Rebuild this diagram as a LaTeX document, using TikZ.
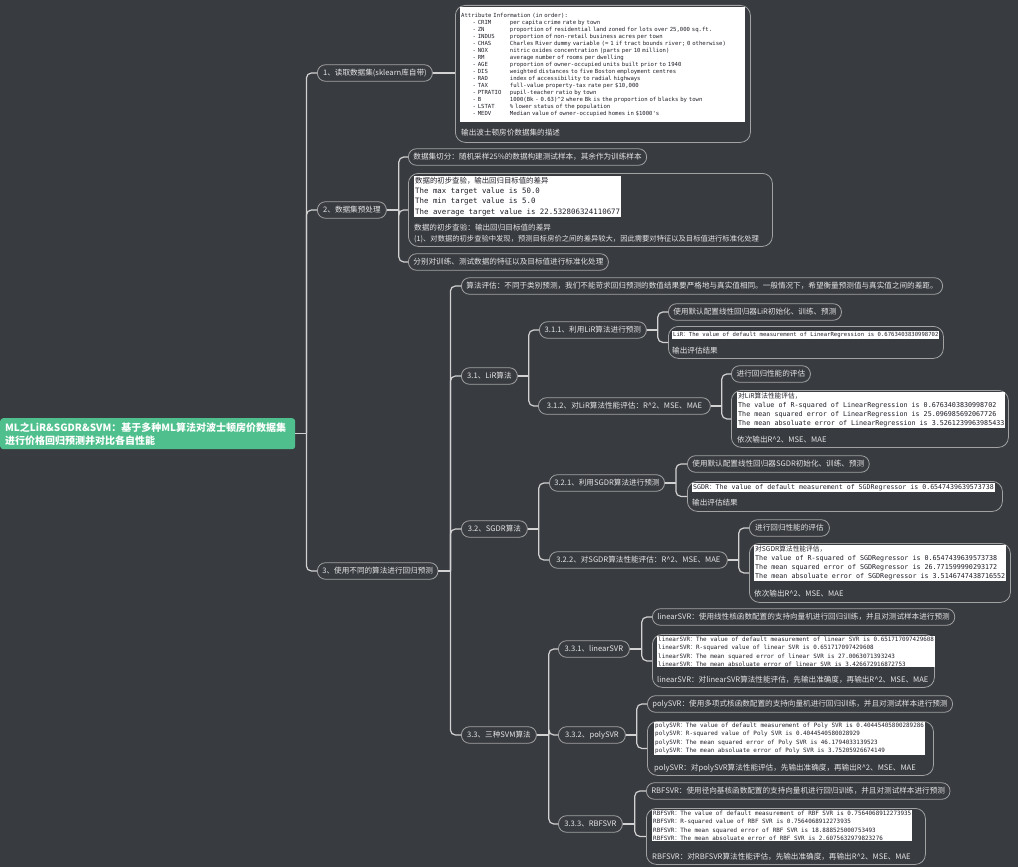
\documentclass[tikz,border=0pt]{standalone}
\usepackage{fontspec}
\setmainfont{Noto Sans CJK SC}
\newfontfamily\cjk{Noto Sans CJK SC}
\newfontfamily\monof{DejaVu Sans Mono}
\definecolor{bg}{HTML}{383B40}
\definecolor{ln}{HTML}{D2D2D2}
\definecolor{pb}{HTML}{A2A2A2}
\definecolor{tx}{HTML}{E6E6E6}
\definecolor{rootg}{HTML}{4FC08D}
\definecolor{codec}{HTML}{1E1E28}
\newcommand\attrline[2]{\hspace*{2.04em}\makebox[6.66em][l]{#1}#2}
\newcommand\fc{{\cjk ：}}
\tikzset{
  pill/.style={draw=pb, line width=0.8pt, rounded corners=8pt, minimum height=16.5pt, inner xsep=5pt, inner ysep=0pt, text=tx, font=\fontsize{7.6}{9}\selectfont, anchor=west},
  boxframe/.style={draw=pb, line width=0.8pt, rounded corners=10pt, anchor=north west, inner sep=0pt},
  codebox/.style={fill=white, text=codec, anchor=north west, inner xsep=1pt, inner ysep=1pt, align=left},
  captxt/.style={text=tx, anchor=west, inner sep=0pt, font=\fontsize{7.6}{9}\selectfont},
  conn/.style={draw=ln, line width=1.2pt},
  br/.style={conn, rounded corners=5pt},
}
\begin{document}
\begin{tikzpicture}[x=1pt,y=-1pt]
\fill[bg] (0,0) rectangle (1018,867);
\useasboundingbox (0,0) rectangle (1018,867);

% root
\node[fill=rootg, rounded corners=3pt, anchor=north west, text width=285pt, minimum height=31pt, inner xsep=5pt, inner ysep=2pt, text=white, align=left, font=\bfseries\fontsize{10}{13}\selectfont] (root) at (0,418) {ML之LiR\&SGDR\&SVM：基于多种ML算法对波士顿房价数据集\\进行价格回归预测并对比各自性能};

% level 1
\node[pill, minimum width=115pt] (p1) at (317,73) {1、读取数据集(sklearn库自带)};
\node[pill, minimum width=69pt] (p2) at (317,210) {2、数据集预处理};
\node[pill, minimum width=120pt] (p3) at (317,571) {3、使用不同的算法进行回归预测};

% branch 1
\node[boxframe, minimum width=295pt, minimum height=137pt] (b1) at (455,5) {};
\node[codebox, font=\monof\fontsize{5.6}{7}\selectfont, text width=283pt, minimum height=115pt] (c1) at (460,7) {Attribute Information (in order):\\
\attrline{- CRIM}{per capita crime rate by town}\\
\attrline{- ZN}{proportion of residential land zoned for lots over 25,000 sq.ft.}\\
\attrline{- INDUS}{proportion of non-retail business acres per town}\\
\attrline{- CHAS}{Charles River dummy variable (= 1 if tract bounds river; 0 otherwise)}\\
\attrline{- NOX}{nitric oxides concentration (parts per 10 million)}\\
\attrline{- RM}{average number of rooms per dwelling}\\
\attrline{- AGE}{proportion of owner-occupied units built prior to 1940}\\
\attrline{- DIS}{weighted distances to five Boston employment centres}\\
\attrline{- RAD}{index of accessibility to radial highways}\\
\attrline{- TAX}{full-value property-tax rate per \$10,000}\\
\attrline{- PTRATIO}{pupil-teacher ratio by town}\\
\attrline{- B}{1000(Bk - 0.63)\textasciicircum 2 where Bk is the proportion of blacks by town}\\
\attrline{- LSTAT}{\% lower status of the population}\\
\attrline{- MEDV}{Median value of owner-occupied homes in \$1000\textquotesingle s}};
\node[captxt] (t1) at (461,133) {输出波士顿房价数据集的描述};

% branch 2
\node[pill, minimum width=236pt] (p21) at (408,157) {数据集切分：随机采样25\%的数据构建测试样本，其余作为训练样本};
\node[boxframe, minimum width=364pt, minimum height=73pt] (b2) at (408,173) {};
\node[codebox, font=\monof\fontsize{7.4}{10.2}\selectfont] (c2) at (414,176) {{\cjk 数据的初步查验，输出回归目标值的差异}\\The max target value is 50.0\\The min target value is 5.0\\The average target value is 22.532806324110677};
\node[captxt] (t2a) at (414,228) {数据的初步查验：输出回归目标值的差异};
\node[captxt, font=\fontsize{7.3}{9}\selectfont] (t2b) at (414,239) {(1)、对数据的初步查验中发现，预测目标房价之间的差异较大，因此需要对特征以及目标值进行标准化处理};
\node[pill, minimum width=198pt] (p23) at (408,262) {分别对训练、测试数据的特征以及目标值进行标准化处理};

% branch 3
\node[pill, minimum width=471pt] (p30) at (461,286) {算法评估：不同于类别预测，我们不能苛求回归预测的数值结果要严格地与真实值相同。一般情况下，希望衡量预测值与真实值之间的差距。};
\node[pill, minimum width=56pt] (p31) at (461,376) {3.1、LiR算法};
\node[pill, minimum width=66pt] (p32) at (461,529) {3.2、SGDR算法};
\node[pill, minimum width=75pt] (p33) at (461,735) {3.3、三种SVM算法};

% 3.1
\node[pill, minimum width=107pt] (p311) at (539,330) {3.1.1、利用LiR算法进行预测};
\node[pill, minimum width=171pt] (p3111) at (668,312) {使用默认配置线性回归器LiR初始化、训练、预测};
\node[boxframe, minimum width=275pt, minimum height=32pt] (b311) at (668,326) {};
\node[codebox, font=\monof\fontsize{5.6}{7}\selectfont] (c311) at (672,331) {LiR\fc The value of default measurement of LinearRegression is 0.6763403830998702};
\node[captxt] (t311) at (672,351) {输出评估结果};
\node[pill, minimum width=172pt] (p312) at (538,406) {3.1.2、对LiR算法性能评估：R\textasciicircum 2、MSE、MAE};
\node[pill, minimum width=79pt] (p3121) at (731,374) {进行回归性能的评估};
\node[boxframe, minimum width=277pt, minimum height=57pt] (b312) at (731,390) {};
\node[codebox, font=\monof\fontsize{6.7}{9}\selectfont] (c312) at (737,392) {{\cjk 对LiR算法性能评估，}\\The value of R-squared of LinearRegression is 0.6763403830998702\\The mean squared error of LinearRegression is 25.096985692067726\\The mean absoluate error of LinearRegression is 3.5261239963985433};
\node[captxt] (t312) at (737,440) {依次输出R\textasciicircum 2、MSE、MAE};

% 3.2
\node[pill, minimum width=115pt] (p321) at (549,483) {3.2.1、利用SGDR算法进行预测};
\node[pill, minimum width=181pt] (p3211) at (687,464) {使用默认配置线性回归器SGDR初始化、训练、预测};
\node[boxframe, minimum width=315pt, minimum height=30pt] (b321) at (687,481) {};
\node[codebox, font=\monof\fontsize{6.6}{8}\selectfont] (c321) at (692,483) {SGDR\fc The value of default measurement of SGDRegressor is 0.6547439639573738};
\node[captxt] (t321) at (692,503) {输出评估结果};
\node[pill, minimum width=178pt] (p322) at (549,560) {3.2.2、对SGDR算法性能评估：R\textasciicircum 2、MSE、MAE};
\node[pill, minimum width=80pt] (p3221) at (749,528) {进行回归性能的评估};
\node[boxframe, minimum width=261pt, minimum height=59pt] (b322) at (749,543) {};
\node[codebox, font=\monof\fontsize{6.7}{9}\selectfont] (c322) at (754,545) {{\cjk 对SGDR算法性能评估，}\\The value of R-squared of SGDRegressor is 0.6547439639573738\\The mean squared error of SGDRegressor is 26.771599990293172\\The mean absoluate error of SGDRegressor is 3.5146747438716552};
\node[captxt] (t322) at (754,594) {依次输出R\textasciicircum 2、MSE、MAE};

% 3.3
\node[pill, minimum width=71pt] (p331) at (558,649) {3.3.1、linearSVR};
\node[pill, minimum width=299pt] (p3311) at (652,617) {linearSVR：使用线性核函数配置的支持向量机进行回归训练，并且对测试样本进行预测};
\node[boxframe, minimum width=282pt, minimum height=53pt] (b331) at (652,634) {};
\node[codebox, font=\monof\fontsize{5.9}{8.2}\selectfont] (c331) at (657,636) {linearSVR\fc The value of default measurement of linear SVR is 0.651717097429608\\linearSVR\fc R-squared value of linear SVR is 0.651717097429608\\linearSVR\fc The mean squared error of linear SVR is 27.0063071393243\\linearSVR\fc The mean absoluate error of linear SVR is 3.426672916872753};
\node[captxt] (t331) at (657,680) {linearSVR：对linearSVR算法性能评估，先输出准确度，再输出R\textasciicircum 2、MSE、MAE};

\node[pill, minimum width=67pt] (p332) at (558,735) {3.3.2、polySVR};
\node[pill, minimum width=303pt] (p3321) at (647,704) {polySVR：使用多项式核函数配置的支持向量机进行回归训练，并且对测试样本进行预测};
\node[boxframe, minimum width=286pt, minimum height=54pt] (b332) at (647,721) {};
\node[codebox, font=\monof\fontsize{5.9}{8.2}\selectfont] (c332) at (654,722) {polySVR\fc The value of default measurement of Poly SVR is 0.40445405800289286\\polySVR\fc R-squared value of Poly SVR is 0.4044540580028929\\polySVR\fc The mean squared error of Poly SVR is 46.1794033139523\\polySVR\fc The mean absoluate error of Poly SVR is 3.75205926674149};
\node[captxt] (t332) at (654,768) {polySVR：对polySVR算法性能评估，先输出准确度，再输出R\textasciicircum 2、MSE、MAE};

\node[pill, minimum width=64pt] (p333) at (558,824) {3.3.3、RBFSVR};
\node[pill, minimum width=300pt] (p3331) at (646,791) {RBFSVR：使用径向基核函数配置的支持向量机进行回归训练，并且对测试样本进行预测};
\node[boxframe, minimum width=279pt, minimum height=56pt] (b333) at (646,808) {};
\node[codebox, font=\monof\fontsize{5.9}{8.2}\selectfont] (c333) at (652,810) {RBFSVR\fc The value of default measurement of RBF SVR is 0.7564068912273935\\RBFSVR\fc R-squared value of RBF SVR is 0.7564068912273935\\RBFSVR\fc The mean squared error of RBF SVR is 18.888525000753493\\RBFSVR\fc The mean absoluate error of RBF SVR is 2.6075632979823276};
\node[captxt] (t333) at (652,857) {RBFSVR：对RBFSVR算法性能评估，先输出准确度，再输出R\textasciicircum 2、MSE、MAE};

% connectors
\coordinate (j0) at ([xshift=11pt]root.east);
\draw[conn] (root.east) -- (j0);
\foreach \c in {p1,p2,p3} \draw[br] (j0) |- (\c.west);
\draw[conn] (p1.east) -- (p1.east -| b1.west);

\coordinate (j2) at ([xshift=12pt]p2.east);
\draw[conn] (p2.east) -- (j2);
\foreach \c in {p21,b2,p23} \draw[br] (j2) |- (\c.west);

\coordinate (j3) at ([xshift=12pt]p3.east);
\draw[conn] (p3.east) -- (j3);
\foreach \c in {p30,p31,p32,p33} \draw[br] (j3) |- (\c.west);

\coordinate (j31) at ([xshift=11pt]p31.east);
\draw[conn] (p31.east) -- (j31);
\foreach \c in {p311,p312} \draw[br] (j31) |- (\c.west);

\coordinate (j311) at ([xshift=11pt]p311.east);
\draw[conn] (p311.east) -- (j311);
\foreach \c in {p3111,b311} \draw[br] (j311) |- (\c.west);

\coordinate (j312) at ([xshift=11pt]p312.east);
\draw[conn] (p312.east) -- (j312);
\foreach \c in {p3121,b312} \draw[br] (j312) |- (\c.west);

\coordinate (j32) at ([xshift=11pt]p32.east);
\draw[conn] (p32.east) -- (j32);
\foreach \c in {p321,p322} \draw[br] (j32) |- (\c.west);

\coordinate (j321) at ([xshift=11pt]p321.east);
\draw[conn] (p321.east) -- (j321);
\foreach \c in {p3211,b321} \draw[br] (j321) |- (\c.west);

\coordinate (j322) at ([xshift=11pt]p322.east);
\draw[conn] (p322.east) -- (j322);
\foreach \c in {p3221,b322} \draw[br] (j322) |- (\c.west);

\coordinate (j33) at ([xshift=12pt]p33.east);
\draw[conn] (p33.east) -- (j33);
\foreach \c in {p331,p332,p333} \draw[br] (j33) |- (\c.west);

\coordinate (j331) at ([xshift=12pt]p331.east);
\draw[conn] (p331.east) -- (j331);
\foreach \c in {p3311,b331} \draw[br] (j331) |- (\c.west);

\coordinate (j332) at ([xshift=11pt]p332.east);
\draw[conn] (p332.east) -- (j332);
\foreach \c in {p3321,b332} \draw[br] (j332) |- (\c.west);

\coordinate (j333) at ([xshift=12pt]p333.east);
\draw[conn] (p333.east) -- (j333);
\foreach \c in {p3331,b333} \draw[br] (j333) |- (\c.west);
\end{tikzpicture}
\end{document}
